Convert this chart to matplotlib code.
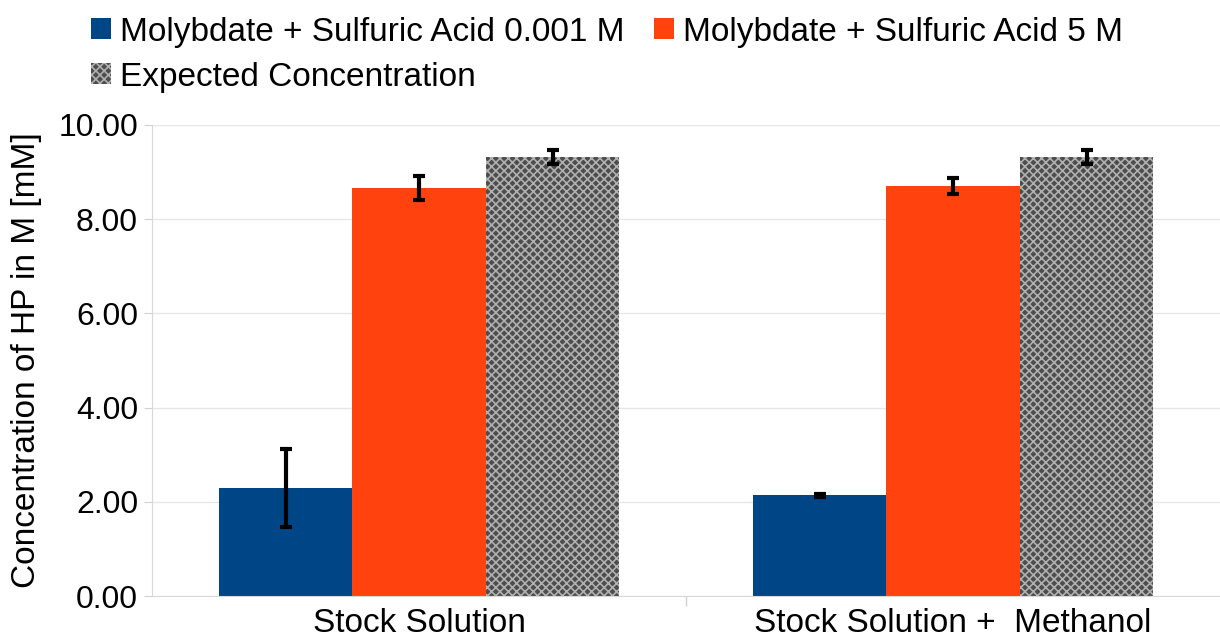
import matplotlib.pyplot as plt
import numpy as np

plt.rcParams['font.family'] = ['Liberation Sans', 'DejaVu Sans']
plt.rcParams['hatch.linewidth'] = 1.2

# Data
categories = ['Stock Solution', 'Stock Solution +  Methanol']
series_names = ['Molybdate + Sulfuric Acid 0.001 M',
                'Molybdate + Sulfuric Acid 5 M',
                'Expected Concentration']
values_low = [2.29, 2.14]
errors_low = [0.83, 0.03]
values_high = [8.66, 8.70]
errors_high = [0.25, 0.17]
values_expected = [9.32, 9.32]
errors_expected = [0.15, 0.15]

fig = plt.figure(figsize=(12.2, 6.38), dpi=100)
ax = fig.add_axes([152 / 1220, 42 / 638, 1068 / 1220, 471 / 638])

x = np.arange(len(categories))
w = 0.25
err_kw = dict(ecolor='black', elinewidth=3, capsize=4, capthick=3)

b1 = ax.bar(x - w, values_low, w, yerr=errors_low, color='#004586',
            label=series_names[0], error_kw=err_kw, zorder=2)
b2 = ax.bar(x, values_high, w, yerr=errors_high, color='#ff420e',
            label=series_names[1], error_kw=err_kw, zorder=2)
b3 = ax.bar(x + w, values_expected, w, yerr=errors_expected, color='#4d4d4d',
            edgecolor='#b0b0b0', hatch='xxxx', linewidth=0,
            label=series_names[2], error_kw=err_kw, zorder=2)

ax.set_xlim(-0.5, 1.5)
ax.set_ylim(0, 10)
ax.set_yticks(np.arange(0, 10.01, 2))
ax.set_yticklabels([f'{v:.2f}' for v in np.arange(0, 10.01, 2)])
ax.set_xticks(x)
ax.set_xticklabels(categories)
ax.set_xticks([0.5], minor=True)
ax.tick_params(axis='x', which='major', length=0, labelsize=24, pad=9)
ax.tick_params(axis='x', which='minor', length=7, color='#d0d0d0', width=1)
ax.tick_params(axis='y', length=6, color='#d0d0d0', labelsize=23, pad=4)
ax.set_ylabel('Concentration of HP in M [mM]', fontsize=24, labelpad=12)

ax.grid(axis='y', color='#e6e6e6', linewidth=1, zorder=0)
ax.set_axisbelow(True)
for side in ['top', 'right']:
    ax.spines[side].set_visible(False)
ax.spines['left'].set_color('#d8d8d8')
ax.spines['bottom'].set_color('#d8d8d8')

# matplotlib fills legend columns first, so reorder to read row by row
fig.legend([b1, b3, b2], [series_names[0], series_names[2], series_names[1]],
           loc='upper left', bbox_to_anchor=(78 / 1220, 0.995), ncol=2,
           frameon=False, fontsize=24, handlelength=0.6, handleheight=0.6,
           handletextpad=0.25, columnspacing=0.9, labelspacing=0.42,
           borderaxespad=0.0)

fig.savefig('out.png', dpi=100)
